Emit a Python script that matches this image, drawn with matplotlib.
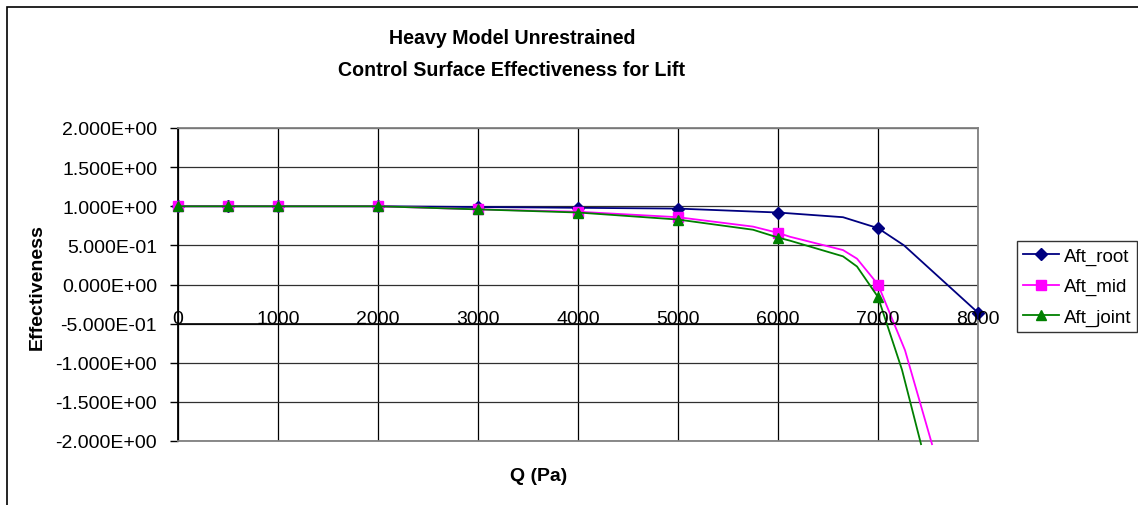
import numpy as np
import matplotlib.pyplot as plt
from matplotlib.patches import Rectangle

plt.rcParams['font.family'] = ['Liberation Sans', 'DejaVu Sans']

# Effectiveness vs dynamic pressure (points with markers sit at the nominal Q values)
q_marked = [0, 500, 1000, 2000, 3000, 4000, 5000, 6000, 7000, 8000]

q_root = [0, 500, 1000, 2000, 3000, 4000, 5000, 6000, 6650, 7000, 7260, 8000]
e_root = [1.0, 1.0, 1.0, 1.0, 0.99, 0.98, 0.97, 0.92, 0.86, 0.72, 0.50, -0.36]

q_mid = [0, 500, 1000, 2000, 3000, 4000, 5000, 5750, 6000, 6120, 6650, 6790, 7000, 7270, 7540]
e_mid = [1.0, 1.0, 1.0, 1.0, 0.96, 0.93, 0.86, 0.74, 0.66, 0.61, 0.44, 0.33, 0.0, -0.84, -2.04]

q_joint = [0, 500, 1000, 2000, 3000, 4000, 5000, 5750, 6000, 6120, 6650, 6790, 7000, 7240, 7430]
e_joint = [1.0, 1.0, 1.0, 1.0, 0.96, 0.92, 0.83, 0.70, 0.60, 0.56, 0.36, 0.23, -0.16, -1.09, -2.04]

x_ticks = [0, 1000, 2000, 3000, 4000, 5000, 6000, 7000, 8000]
y_ticks = [2.0, 1.5, 1.0, 0.5, 0.0, -0.5, -1.0, -1.5, -2.0]

FS = 14
W, H = 1138, 506
fig = plt.figure(figsize=(W / 100, H / 100), dpi=100)
fig.patches.append(Rectangle((7 / W, -0.1), 1.2, 1 - 8 / H + 0.1, transform=fig.transFigure,
                             fill=False, edgecolor='black', linewidth=1.2))

ax = fig.add_axes([178 / W, 1 - 442 / H, 800 / W, 313 / H])
ax.set_xlim(0, 8000)
ax.set_ylim(-2, 2)

series = [
    (q_root, e_root, '#000080', 'D', 6, 'Aft_root'),
    (q_mid, e_mid, '#FF00FF', 's', 6.5, 'Aft_mid'),
    (q_joint, e_joint, '#008000', '^', 7.5, 'Aft_joint'),
]
for q, e, col, mk, ms, lab in series:
    idx = [i for i, v in enumerate(q) if v in q_marked]
    ax.plot(q, e, color=col, marker=mk, markersize=ms, markevery=idx,
            linewidth=1.3, label=lab, clip_on=False, zorder=3)

# grid
for x in x_ticks:
    ax.axvline(x, color='black', linewidth=0.9, zorder=1)
for y in y_ticks:
    ax.axhline(y, color='#303030', linewidth=0.9, zorder=1)
ax.axhline(-0.5, color='black', linewidth=1.2, zorder=2)

for s in ax.spines.values():
    s.set_color('#808080')
    s.set_linewidth(1.3)
ax.spines['left'].set_color('black')

ax.set_xticks([])
ax.set_yticks(y_ticks)
ax.set_yticklabels(['%.3E' % v for v in y_ticks], fontsize=FS)
ax.tick_params(axis='y', direction='out', length=6, width=1, pad=9)

# x tick labels sit on the axis line at -0.5
for x in x_ticks:
    ax.text(x, -0.49, str(x), ha='center', va='baseline', fontsize=FS, zorder=4)

fig.text(512 / W, 1 - 39 / H, 'Heavy Model Unrestrained', ha='center', va='center',
         fontsize=14.1, fontweight='bold')
fig.text(512 / W, 1 - 70 / H, 'Control Surface Effectiveness for Lift', ha='center', va='center',
         fontsize=14.1, fontweight='bold')
fig.text(539 / W, 1 - 477 / H, 'Q (Pa)', ha='center', va='center', fontsize=FS, fontweight='bold')
fig.text(37 / W, 1 - 287 / H, 'Effectiveness', ha='center', va='center', rotation=90,
         fontsize=FS, fontweight='bold')

leg = fig.legend(loc='upper left', bbox_to_anchor=(1017 / W, 1 - 242 / H), fontsize=13.5,
                 frameon=True, fancybox=False, edgecolor='black', borderaxespad=0,
                 handlelength=1.9, handletextpad=0.25, borderpad=0.33, labelspacing=0.72)
leg.get_frame().set_linewidth(1.0)

fig.savefig('out.png', dpi=100)
